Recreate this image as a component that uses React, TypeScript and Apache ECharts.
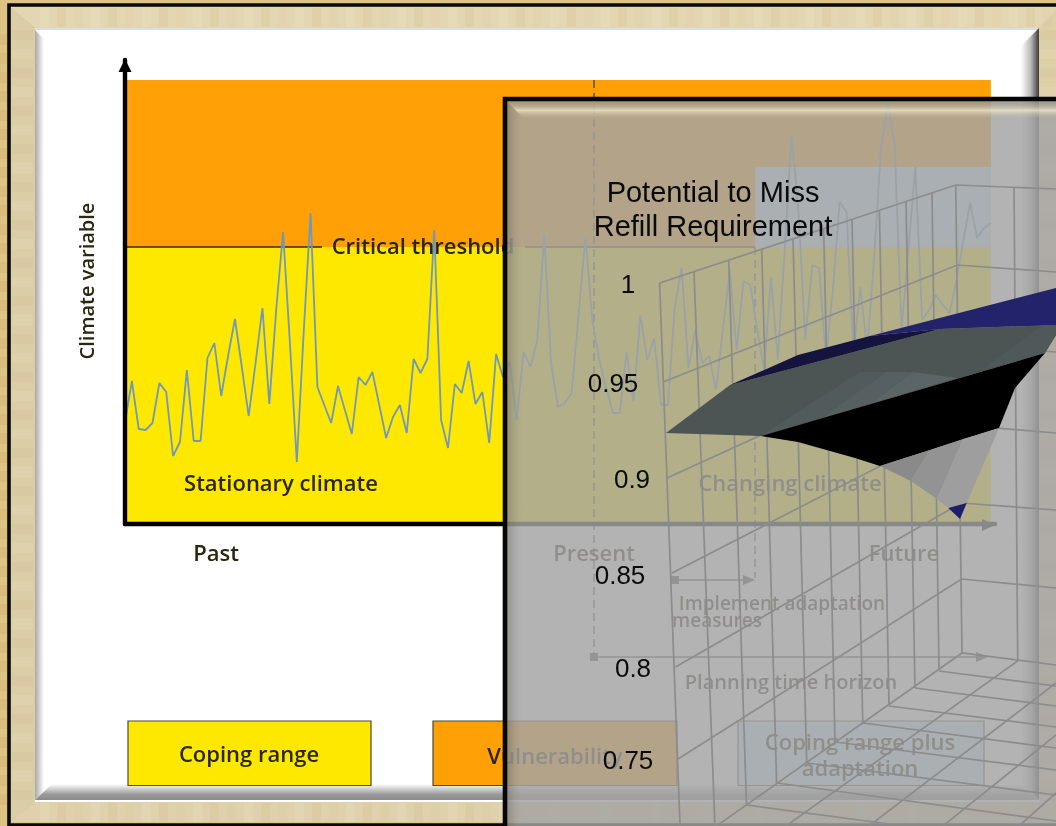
import React, { useEffect, useRef } from "react";
import * as echarts from "echarts";

// Climate variable, one reading per time step, measured upward from the time axis.
const climateValues = [
  102, 143, 95, 94, 101, 141, 132, 68, 82, 154, 83, 83, 166, 181, 128, 168, 205, 157, 108, 161, 216, 120, 214, 292,
  181, 62, 191, 311, 137, 119, 101, 138, 114, 90, 147, 139, 152, 119, 86, 107, 119, 91, 165, 151, 165, 294, 104, 76,
  140, 131, 163, 120, 132, 81, 170, 147, 162, 104, 172, 157, 184, 289, 161, 117, 121, 131, 209, 287, 204, 164, 137,
  111, 111, 172, 122, 209, 164, 186, 119, 119, 217, 256, 156, 194, 161, 168, 134, 194, 254, 174, 243, 239, 194, 154,
  247, 164, 274, 389, 314, 184, 259, 256, 164, 234, 322, 312, 169, 237, 174, 264, 374, 421, 379, 194, 274, 357, 204,
  214, 229, 219, 211, 244, 284, 321, 286, 296, 301,
];
const thresholdValue = 277;
const regionTopValue = 444;
const adaptedThresholdValue = 357;
const adaptationStartStep = 91.7;
const lastStep = 126;

// Screen-plane outline of the refill surface and its wire cage.
const cageRows = [
  [[659.6, 283], [955.7, 185], [1056, 189]],
  [[663, 382], [957.5, 265], [1056, 272]],
  [[667, 478], [958.5, 345], [1056, 352]],
  [[672, 573], [960, 425], [1056, 433]],
  [[675.5, 667], [961, 503], [1056, 510]],
  [[678, 759], [961.5, 579], [1056, 588]],
  [[681, 851], [962, 653], [1056, 665]],
];
const cageColumns = [
  [[659.6, 283], [681, 851]],
  [[694, 272], [715, 828]],
  [[728.7, 260], [746.5, 805]],
  [[761.7, 249], [776.6, 783]],
  [[793, 239], [806.7, 763]],
  [[823.7, 229], [835, 742]],
  [[852, 219], [862.8, 723]],
  [[879.4, 210], [889, 705]],
  [[906, 201], [915, 688]],
  [[932, 193], [939, 670]],
  [[955.7, 185], [962, 653]],
  [[1014, 187], [1017.7, 661]],
];
const cageFloor = [
  [[939, 671], [1056, 686]],
  [[915, 688], [1056, 706]],
  [[889, 706], [1056, 727]],
  [[863, 723], [1056, 748]],
  [[835, 742], [1056, 770]],
  [[807, 763], [1056, 795]],
  [[777, 783], [1056, 821]],
  [[746.5, 805], [889, 824]],
  [[1017.7, 661], [786, 826]],
  [[1056, 683], [869, 826]],
  [[1056, 735], [943, 826]],
  [[1056, 793], [1019, 826]],
];
const surfaceFacets = [
  [[666, 433], [730, 385], [940, 329], [1056, 325], [1056, 335], [1045, 353], [761, 436]],
  [[730, 385], [798, 355], [870, 336], [940, 329]],
  [[870, 336], [1056, 288], [1056, 325], [940, 329]],
  [[761, 436], [860, 372], [886, 372], [820, 419]],
  [[820, 419], [886, 372], [913, 372], [870, 404]],
  [[870, 404], [913, 372], [957, 378]],
  [[980, 371], [1043, 325], [1056, 325], [1056, 335], [1045, 353]],
  [[761, 436], [1045, 353], [1015, 388], [999, 428], [880, 466], [855, 458], [798, 442]],
  [[880, 466], [911, 481], [930, 450]],
  [[911, 481], [937, 499], [963, 439], [930, 450]],
  [[937, 499], [948.3, 508], [966.7, 503], [999, 428], [963, 439]],
  [[948.3, 508], [966.7, 503], [960, 519]],
];
const facetColors = [
  "#4c5454", "#14143f", "#23236b", "#525b5b", "#576060", "#5c6565", "#505959", "#000000", "#8a8a8a", "#939393",
  "#9e9e9e", "#1e1e6c",
];
const missTickLabels = ["1", "0.95", "0.9", "0.85", "0.8", "0.75"];
const missTickSpots = [[628, 284], [613, 383], [632, 479], [620, 575], [633, 668], [628, 760]];

// Time-axis markers drawn beneath the translucent sheet.
const dashedGuides = [
  [[594, 80], [594, 657]],
  [[755, 247], [755, 578]],
];
const timeSpans = [
  [[594, 657], [976, 657]],
  [[675, 580], [744, 580]],
];
const thresholdSegments = [
  [[125, 247], [322, 247]],
  [[525, 247], [755, 247]],
];
const arrowHeads = [
  [[125, 59], [118.5, 72], [131.5, 72]],
  [[995, 525], [982, 519], [982, 531]],
  [[988, 657], [976, 652], [976, 662]],
  [[755, 580], [743, 575], [743, 585]],
];
const squareMarks = [[594, 657], [675, 580]];

const baseFont = "'Open Sans'";
const ink = "#2a2610";

function baseText(text: string, x: number, y: number, size = 22, extra: any = {}) {
  return {
    type: "text",
    z: 8,
    x,
    y,
    style: {
      text,
      fill: ink,
      font: `600 ${size}px ${baseFont}`,
      textAlign: "center",
      textVerticalAlign: "middle",
    },
    ...extra,
  };
}

function sheetText(text: string, x: number, y: number, size = 26) {
  return {
    type: "text",
    z: 40,
    x,
    y,
    style: {
      text,
      fill: "#0a0a0a",
      font: `${size}px 'Liberation Sans'`,
      textAlign: "center",
      textVerticalAlign: "middle",
    },
  };
}

function box(x: number, y: number, width: number, height: number, fill: string) {
  return {
    type: "rect",
    z: 7,
    shape: { x, y, width, height },
    style: { fill, stroke: "#4a4a3a", lineWidth: 1.2 },
  };
}

function linear(x2: number, y2: number, stops: [number, string][]) {
  return {
    type: "linear",
    x: 0,
    y: 0,
    x2,
    y2,
    colorStops: stops.map(([offset, color]) => ({ offset, color })),
  };
}

function frameElements() {
  const poly = (points: number[][], fill: any, z = 1) => ({ type: "polygon", z, shape: { points }, style: { fill } });
  const rect = (x: number, y: number, width: number, height: number, fill: any, z = 1) => ({
    type: "rect",
    z,
    shape: { x, y, width, height },
    style: { fill },
  });
  const els: any[] = [
    rect(0, 0, 1056, 826, "#DDC384", 0),
    poly([[10, 7], [1056, 7], [1056, 28], [35, 28]], "#E3D6B2"),
    poly([[10, 7], [35, 28], [35, 802], [10, 822]], "#DBCDA6"),
    poly([[10, 822], [35, 802], [1039, 802], [1056, 822]], "#DFD1AB"),
    poly([[1039, 28], [1056, 10], [1056, 822], [1039, 802]], "#DDCFA8"),
    rect(35, 28, 1004, 774, "#FFFFFF"),
    rect(35, 28, 1004, 2, "#D9DDE4"),
    poly([[35, 30], [44, 39], [44, 792], [35, 800]], linear(1, 0, [[0, "#A8A8A8"], [1, "#FFFFFF"]])),
    poly([[1021, 46], [1039, 28], [1039, 800], [1021, 784]], linear(1, 0, [[0, "#FFFFFF"], [0.55, "#B8B8B8"], [1, "#3A3A3A"]])),
    poly([[52, 784], [1021, 784], [1039, 800], [35, 800]], linear(0, 1, [[0, "#FFFFFF"], [0.65, "#9A9A9A"], [1, "#8A8A8A"]])),
    { type: "polyline", z: 1, shape: { points: [[1056, 5], [9, 5], [9, 825], [1056, 825]] }, style: { stroke: "#0A0A0A", lineWidth: 3.6, fill: null } },
  ];
  // Paper grain along the mitred border: narrow, faintly tinted strips.
  for (let x = 40; x < 1056; x += 17) {
    const shade = x % 3 === 0 ? "rgba(190,165,110,0.10)" : x % 3 === 1 ? "rgba(255,248,225,0.12)" : "rgba(205,185,135,0.06)";
    els.push(rect(x, 8, 9, 19, shade, 2));
    els.push(rect(x, 803, 9, 19, shade, 2));
  }
  for (let y = 30; y < 800; y += 19) {
    const shade = y % 2 === 0 ? "rgba(190,165,110,0.09)" : "rgba(255,248,225,0.10)";
    els.push(rect(12, y, 21, 10, shade, 2));
    els.push(rect(0, y + 4, 7, 11, "rgba(200,150,70,0.14)", 2));
    els.push(rect(1040, y, 16, 10, shade, 2));
  }
  return els;
}

function sheetElements() {
  return [
    { type: "rect", z: 20, shape: { x: 505, y: 99, width: 560, height: 740 }, style: { fill: "rgba(164,164,164,0.83)" } },
    {
      type: "polygon",
      z: 21,
      shape: { points: [[507, 101], [1056, 101], [1056, 118], [523, 118]] },
      style: { fill: linear(0, 1, [[0, "rgba(120,110,80,0.25)"], [0.55, "rgba(245,235,205,0.72)"], [1, "rgba(200,190,160,0)"]]) },
    },
    {
      type: "polygon",
      z: 21,
      shape: { points: [[507, 101], [523, 118], [523, 826], [507, 826]] },
      style: { fill: linear(1, 0, [[0, "rgba(70,65,45,0.28)"], [0.5, "rgba(120,115,90,0.16)"], [1, "rgba(164,164,164,0)"]]) },
    },
    { type: "polyline", z: 22, shape: { points: [[505, 826], [505, 99], [1056, 99]] }, style: { stroke: "#060606", lineWidth: 4.6, fill: null } },
  ];
}

function strokeSeries(name: string, lines: number[][][], z: number, stroke: string, lineWidth: number, lineDash?: number[]) {
  return {
    type: "custom",
    name,
    xAxisIndex: 1,
    yAxisIndex: 1,
    z,
    clip: false,
    silent: true,
    data: lines.map((_, i) => [i]),
    renderItem: (params: any, api: any) => ({
      type: "polyline",
      shape: { points: lines[params.dataIndex].map((p) => api.coord(p)) },
      style: { stroke, lineWidth, fill: null, lineDash },
    }),
  };
}

function fillSeries(name: string, shapes: number[][][], z: number, colorOf: (i: number) => string) {
  return {
    type: "custom",
    name,
    xAxisIndex: 1,
    yAxisIndex: 1,
    z,
    clip: false,
    silent: true,
    data: shapes.map((_, i) => [i]),
    renderItem: (params: any, api: any) => ({
      type: "polygon",
      shape: { points: shapes[params.dataIndex].map((p) => api.coord(p)) },
      style: { fill: colorOf(params.dataIndex) },
    }),
  };
}

function squareSeries() {
  return {
    type: "scatter",
    xAxisIndex: 1,
    yAxisIndex: 1,
    z: 9,
    symbol: "rect",
    symbolSize: 8,
    silent: true,
    itemStyle: { color: "#4a4a4a", opacity: 1 },
    data: squareMarks,
  };
}

function buildOption() {
  return {
    animation: false,
    backgroundColor: "transparent",
    grid: [
      { left: 125, top: 60, width: 870, height: 464, show: false },
      { left: 0, top: 0, width: 1056, height: 826, show: false },
    ],
    xAxis: [
      {
        type: "value",
        gridIndex: 0,
        min: 0,
        max: 126.6,
        z: 9,
        splitLine: { show: false },
        axisTick: { show: false },
        axisLabel: { show: false },
        axisLine: { show: true, onZero: false, lineStyle: { color: "#000", width: 4.4 } },
      },
      { type: "value", gridIndex: 1, min: 0, max: 1056, show: false },
    ],
    yAxis: [
      {
        type: "value",
        gridIndex: 0,
        min: 0,
        max: 464,
        z: 9,
        splitLine: { show: false },
        axisTick: { show: false },
        axisLabel: { show: false },
        axisLine: { show: true, onZero: false, lineStyle: { color: "#000", width: 4.4 } },
      },
      { type: "value", gridIndex: 1, min: 0, max: 826, inverse: true, show: false },
    ],
    series: [
      {
        type: "line",
        name: "Climate variable",
        xAxisIndex: 0,
        yAxisIndex: 0,
        z: 6,
        symbol: "none",
        silent: true,
        lineStyle: { color: "#6E98BC", width: 1.8 },
        data: climateValues.map((v, i) => [i, v]),
        markArea: {
          silent: true,
          z: 3,
          itemStyle: { opacity: 1 },
          data: [
            [{ coord: [0, thresholdValue], itemStyle: { color: "#FFA006" } }, { coord: [lastStep, regionTopValue] }],
            [{ coord: [0, 0], itemStyle: { color: "#FFE800" } }, { coord: [lastStep, thresholdValue] }],
            [{ coord: [adaptationStartStep, thresholdValue], itemStyle: { color: "#C4E7F5" } }, { coord: [lastStep, adaptedThresholdValue] }],
          ],
        },
      },
      strokeSeries("Critical threshold", thresholdSegments, 5, "#3a2a08", 1.6),
      strokeSeries("Guides", dashedGuides, 5, "#4a4a4a", 1.4, [8, 5]),
      strokeSeries("Spans", timeSpans, 5, "#4a4a4a", 1.4),
      fillSeries("Arrow heads", arrowHeads, 9, (i) => (i < 2 ? "#000" : "#4a4a4a")),
      squareSeries(),
      strokeSeries("Cage rows", cageRows, 30, "#8C8C8C", 1.7),
      strokeSeries("Cage columns", cageColumns, 30, "#8C8C8C", 1.7),
      strokeSeries("Cage floor", cageFloor, 30, "#8C8C8C", 1.7),
      fillSeries("Refill surface", surfaceFacets, 32, (i) => facetColors[i]),
    ],
    graphic: {
      elements: [
        ...frameElements(),
        box(128, 721, 243, 64.5, "#FFE800"),
        box(433, 721, 244, 64.5, "#FFA006"),
        box(738, 721, 246, 64.5, "#C4E7F5"),
        baseText("Climate variable", 86, 281, 20, { rotation: Math.PI / 2 }),
        baseText("Critical threshold", 423, 245, 22),
        baseText("Stationary climate", 281, 482, 22),
        baseText("Changing climate", 790, 482, 22),
        baseText("Past", 216, 552, 22),
        baseText("Present", 594, 552, 22),
        baseText("Future", 904, 552, 22),
        baseText("Implement adaptation", 782, 603, 19),
        baseText("measures", 717, 620, 19),
        baseText("Planning time horizon", 791, 681, 20),
        baseText("Coping range", 249, 753, 22),
        baseText("Vulnerability", 555, 755, 22),
        baseText("Coping range plus", 860, 741, 22),
        baseText("adaptation", 860, 767, 22),
        ...sheetElements(),
        sheetText("Potential to Miss", 713, 192, 29),
        sheetText("Refill Requirement", 713, 226, 29),
        ...missTickLabels.map((label, i) => sheetText(label, missTickSpots[i][0], missTickSpots[i][1])),
      ],
    },
  };
}

export default function App() {
  const ref = useRef<HTMLDivElement>(null);
  useEffect(() => {
    const chart = echarts.init(ref.current!, undefined, { renderer: "svg" });
    chart.setOption(buildOption() as any);
    return () => chart.dispose();
  }, []);
  return <div ref={ref} style={{ position: "fixed", left: 0, top: 0, width: 1056, height: 826 }} />;
}
